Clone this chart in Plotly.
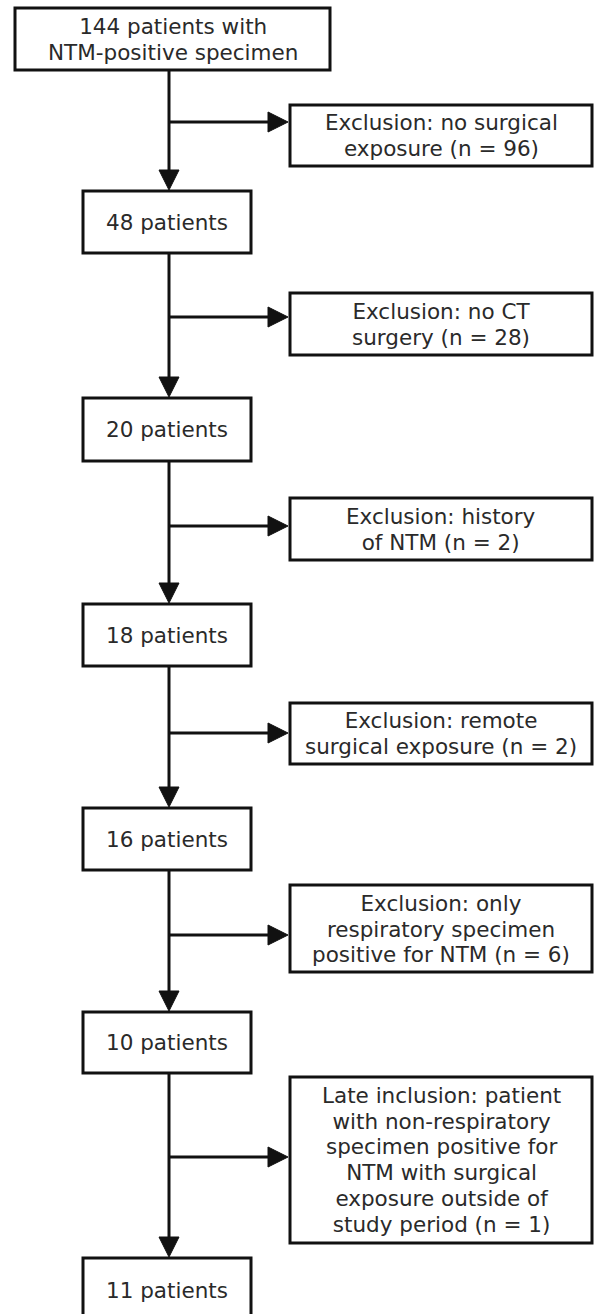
import plotly.graph_objects as go

# ---- data ----
patient_counts = [144, 48, 20, 18, 16, 10, 11]
main_labels = [
    ["144 patients with", "NTM-positive specimen"],
    ["48 patients"],
    ["20 patients"],
    ["18 patients"],
    ["16 patients"],
    ["10 patients"],
    ["11 patients"],
]
side_counts = [96, 28, 2, 2, 6, 1]
side_labels = [
    ["Exclusion: no surgical", "exposure (n = 96)"],
    ["Exclusion: no CT", "surgery (n = 28)"],
    ["Exclusion: history", "of NTM (n = 2)"],
    ["Exclusion: remote", "surgical exposure (n = 2)"],
    ["Exclusion: only", "respiratory specimen", "positive for NTM (n = 6)"],
    ["Late inclusion: patient", "with non-respiratory", "specimen positive for",
     "NTM with surgical", "exposure outside of", "study period (n = 1)"],
]

# ---- layout geometry (pixels in a 594 x 1314 canvas) ----
W, H = 594, 1314
main_x = [(15, 330)] + [(83, 251)] * 6
main_y = [(8, 70), (191, 253), (398, 461), (604, 666), (808, 870), (1012, 1073), (1258, 1322)]
side_x = (290, 592)
side_y = [(105, 166), (293, 355), (498, 560), (703, 764), (885, 972), (1077, 1243)]
side_arrow_y = [122, 317, 526, 733, 935, 1157]
line_x = 169
head = 20
LW = 3
INK = "#111111"
TXT = "#2a2a2a"
FONT = "DejaVu Sans"
FS = 21.5
LINE_GAP = 25.7
BASE_FS = LINE_GAP / 1.3   # plotly line spacing is 1.3em of the base font

shapes = []
annotations = []

def rect(x0, x1, y0, y1):
    shapes.append(dict(type="rect", xref="x", yref="y", x0=x0, x1=x1, y0=y0, y1=y1,
                       line=dict(color=INK, width=LW), fillcolor="white", layer="above"))

def line(x0, y0, x1, y1):
    shapes.append(dict(type="line", xref="x", yref="y", x0=x0, y0=y0, x1=x1, y1=y1,
                       line=dict(color=INK, width=LW), layer="above"))

def tri(points):
    p = "M " + " L ".join(f"{a},{b}" for a, b in points) + " Z"
    shapes.append(dict(type="path", xref="x", yref="y", path=p, fillcolor=INK,
                       line=dict(color=INK, width=1), layer="above"))

def label(x, yc, lines):
    text = "<br>".join(f"<span style='font-size:{FS}px'>{t}</span>" for t in lines)
    annotations.append(dict(x=x, y=yc, xref="x", yref="y", text=text, showarrow=False,
                            xanchor="center", yanchor="middle", align="center",
                            font=dict(family=FONT, size=BASE_FS, color=TXT)))

# main boxes
for (x0, x1), (y0, y1), txt in zip(main_x, main_y, main_labels):
    rect(x0, x1, y0, y1)
    label((x0 + x1) / 2, (y0 + y1) / 2, txt)

# vertical connectors with arrowheads
for i in range(len(main_y) - 1):
    top = main_y[i][1]
    tip = main_y[i + 1][0] - 1
    line(line_x, top, line_x, tip - head + 2)
    tri([(line_x - head / 2, tip - head), (line_x + head / 2, tip - head), (line_x, tip)])

# side boxes and branch arrows
for (y0, y1), ay, txt in zip(side_y, side_arrow_y, side_labels):
    rect(side_x[0], side_x[1], y0, y1)
    label((side_x[0] + side_x[1]) / 2, (y0 + y1) / 2, txt)
    tip = side_x[0] - 2
    line(line_x, ay, tip - head + 2, ay)
    tri([(tip - head, ay - head / 2), (tip - head, ay + head / 2), (tip, ay)])

fig = go.Figure()
fig.add_trace(go.Scatter(x=[0, W], y=[0, H], mode="markers", marker=dict(opacity=0),
                         hoverinfo="skip", showlegend=False))
fig.update_layout(
    width=W, height=H,
    margin=dict(l=0, r=0, t=0, b=0),
    paper_bgcolor="white", plot_bgcolor="white",
    xaxis=dict(range=[0, W], visible=False, fixedrange=True),
    yaxis=dict(range=[H, 0], visible=False, fixedrange=True),
    shapes=shapes, annotations=annotations,
    showlegend=False,
)
fig.write_html("out.html", config={"displayModeBar": False},
               post_script="document.body.style.margin='0';document.body.style.overflow='hidden';")
